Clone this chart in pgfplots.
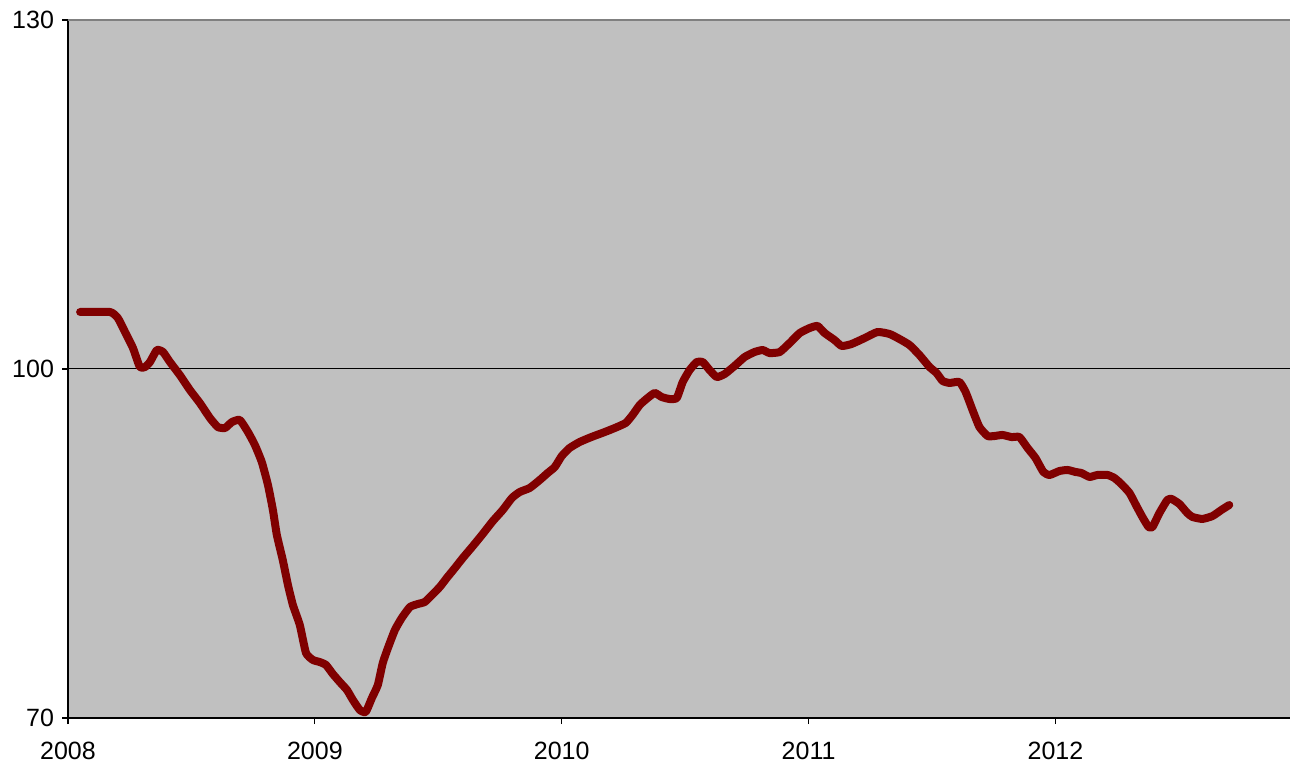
\documentclass[border=0pt]{standalone}
\usepackage{pgfplots}
\pgfplotsset{compat=1.18}
\usepackage{fontspec}
\setmainfont{Liberation Sans}
\definecolor{plotbg}{HTML}{C0C0C0}
\definecolor{linered}{HTML}{800000}
\begin{document}
\begin{tikzpicture}
\useasboundingbox (-34pt,-24pt) rectangle (611pt,359pt);
\begin{axis}[
  scale only axis,
  width=611pt, height=349pt,
  xmin=2008, xmax=2012.95,
  ymin=70, ymax=130,
  xtick={2008,2009,2010,2011,2012},
  ytick={70,100,130},
  axis background/.style={fill=plotbg},
  axis lines*=left,
  axis line style={black, line width=0.6pt},
  tick align=outside,
  major tick length=3pt,
  tick style={black, line width=0.6pt},
  ymajorgrids,
  grid style={black, line width=0.5pt},
  xticklabel style={font=\fontsize{12.5}{15}\selectfont, yshift=-5.5pt},
  yticklabel style={font=\fontsize{12.5}{15}\selectfont, xshift=-0.5pt},
  /pgf/number format/1000 sep={},
  /pgf/number format/assume math mode=true,
  clip=false,
]
\draw[gray, line width=0.8pt] (rel axis cs:0,1) -- (rel axis cs:1,1);
\addplot[linered, line width=4pt, line join=round, line cap=round, smooth, tension=0.3] coordinates {
(2008.049,104.90) (2008.170,104.90) (2008.202,104.38) (2008.231,103.18) (2008.263,101.81)
(2008.291,100.17) (2008.312,100.17) (2008.332,100.60) (2008.360,101.63) (2008.385,101.46)
(2008.413,100.60) (2008.453,99.48) (2008.494,98.19) (2008.534,97.08) (2008.575,95.79)
(2008.607,95.01) (2008.636,94.93) (2008.664,95.44) (2008.696,95.62) (2008.729,94.58)
(2008.757,93.47) (2008.785,92.00) (2008.810,90.03) (2008.830,87.88) (2008.846,85.73)
(2008.870,83.58) (2008.891,81.43) (2008.911,79.71) (2008.939,77.99) (2008.964,75.59)
(2008.992,74.99) (2009.020,74.81) (2009.045,74.56) (2009.073,73.78) (2009.101,73.09)
(2009.130,72.41) (2009.154,71.55) (2009.182,70.69) (2009.206,70.52) (2009.231,71.72)
(2009.255,72.84) (2009.275,74.73) (2009.296,76.02) (2009.324,77.56) (2009.352,78.60)
(2009.385,79.54) (2009.417,79.80) (2009.445,79.97) (2009.474,80.57) (2009.506,81.26)
(2009.534,82.03) (2009.567,82.89) (2009.599,83.75) (2009.640,84.78) (2009.680,85.82)
(2009.721,86.93) (2009.761,87.88) (2009.798,88.91) (2009.830,89.43) (2009.870,89.77)
(2009.911,90.46) (2009.943,91.06) (2009.972,91.58) (2010.000,92.52) (2010.032,93.21)
(2010.073,93.73) (2010.121,94.16) (2010.174,94.58) (2010.215,94.93) (2010.259,95.36)
(2010.287,96.05) (2010.316,96.91) (2010.348,97.51) (2010.377,97.94) (2010.405,97.59)
(2010.437,97.42) (2010.466,97.51) (2010.490,98.88) (2010.518,99.91) (2010.547,100.60)
(2010.571,100.60) (2010.599,99.91) (2010.628,99.31) (2010.660,99.57) (2010.700,100.26)
(2010.741,101.03) (2010.781,101.46) (2010.814,101.63) (2010.842,101.37) (2010.883,101.46)
(2010.923,102.23) (2010.964,103.09) (2011.004,103.52) (2011.036,103.70) (2011.065,103.09)
(2011.105,102.49) (2011.134,101.98) (2011.174,102.15) (2011.227,102.66) (2011.279,103.18)
(2011.328,103.01) (2011.368,102.58) (2011.409,102.06) (2011.449,101.20) (2011.490,100.17)
(2011.518,99.66) (2011.543,98.97) (2011.571,98.80) (2011.611,98.88) (2011.636,98.02)
(2011.664,96.47) (2011.692,95.01) (2011.725,94.24) (2011.753,94.24) (2011.785,94.33)
(2011.822,94.15) (2011.854,94.15) (2011.887,93.21) (2011.919,92.35) (2011.951,91.15)
(2011.976,90.89) (2012.016,91.23) (2012.049,91.32) (2012.081,91.15) (2012.105,91.06)
(2012.138,90.72) (2012.170,90.89) (2012.211,90.89) (2012.239,90.63) (2012.267,90.11)
(2012.300,89.34) (2012.328,88.22) (2012.352,87.28) (2012.377,86.42) (2012.393,86.42)
(2012.421,87.62) (2012.453,88.74) (2012.470,88.83) (2012.502,88.40) (2012.534,87.62)
(2012.555,87.28) (2012.595,87.11) (2012.636,87.36) (2012.672,87.88) (2012.704,88.31)
};
\end{axis}
\end{tikzpicture}
\end{document}
